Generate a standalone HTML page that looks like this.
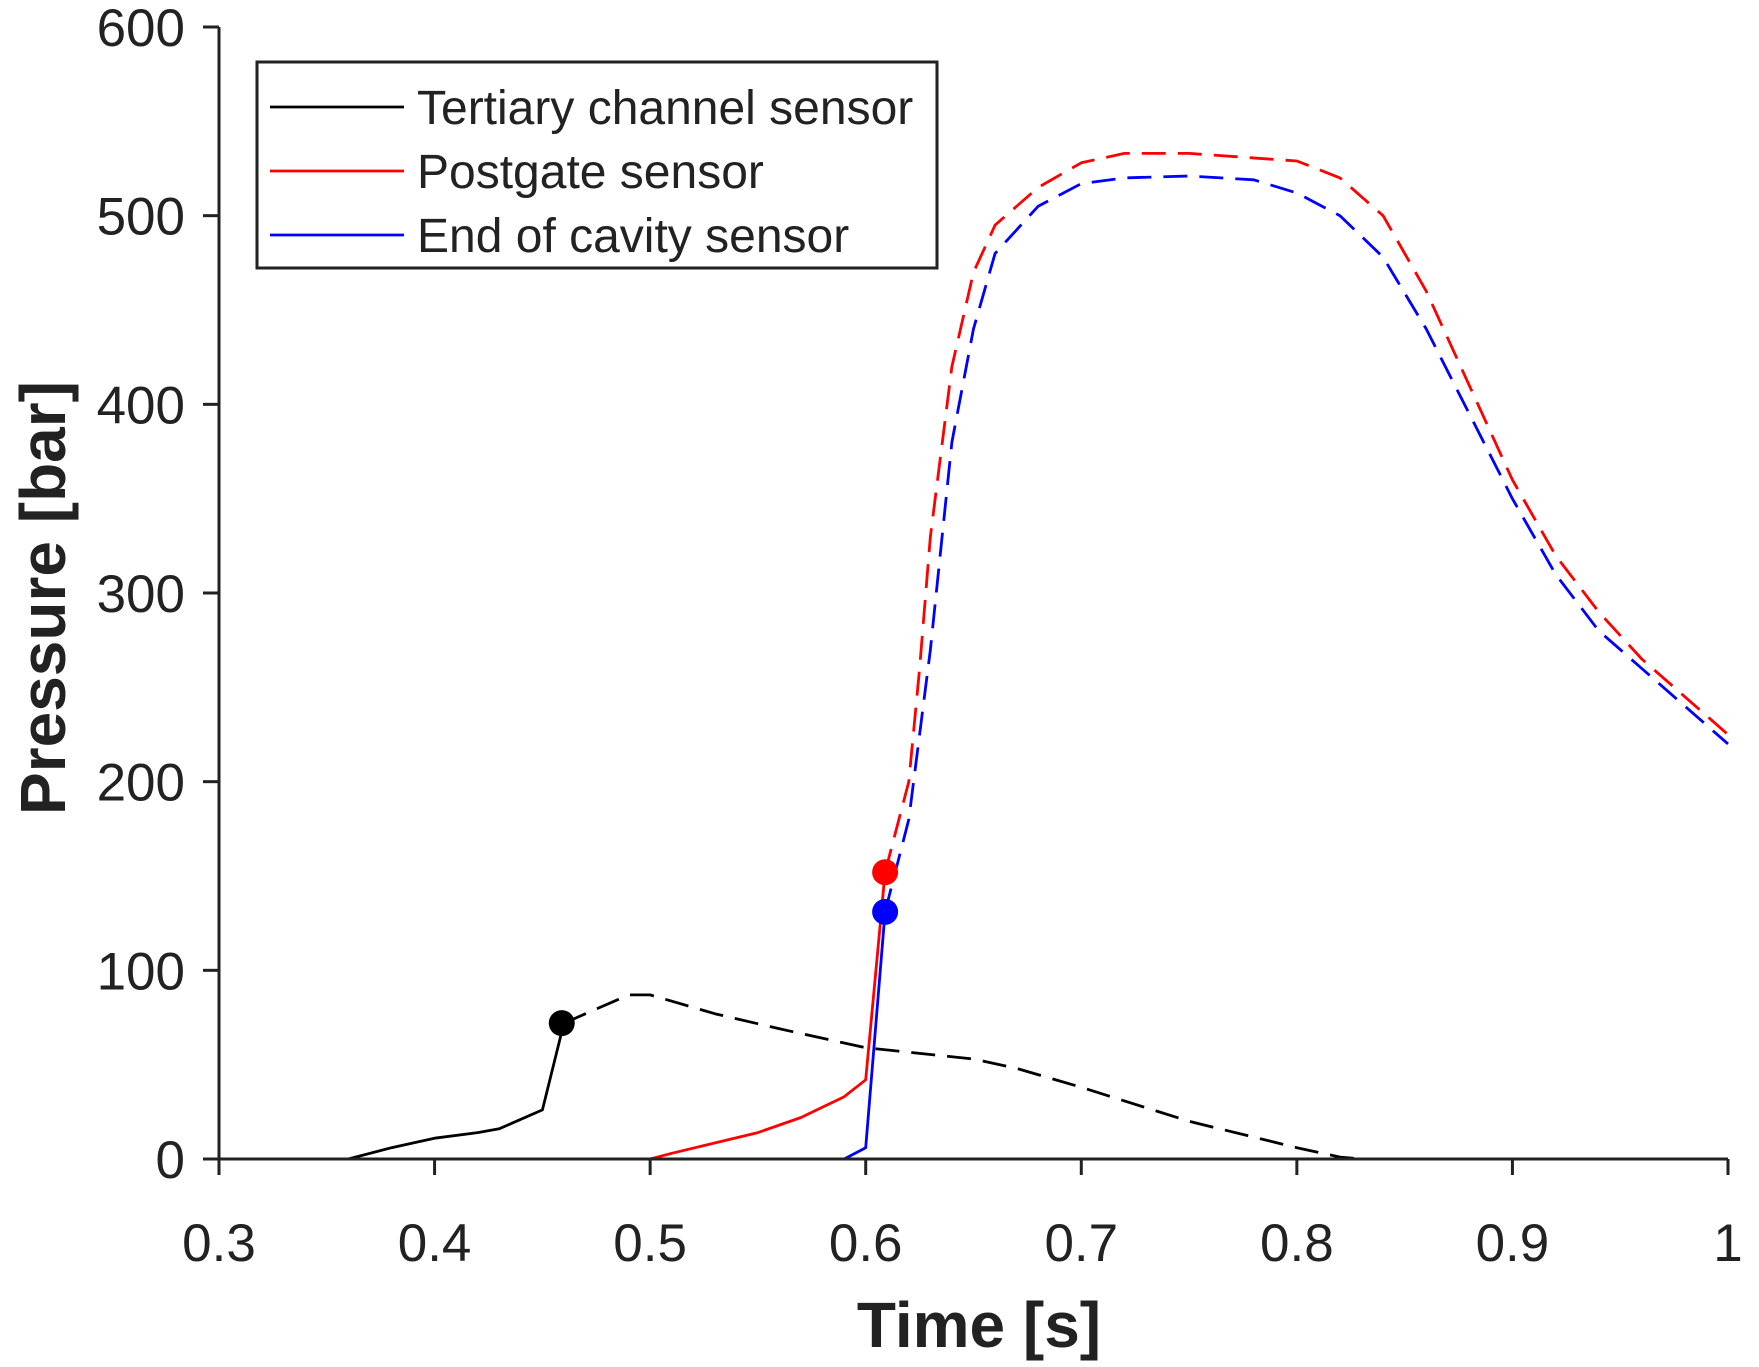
<!DOCTYPE html>
<html><head><meta charset="utf-8"><style>
html,body{margin:0;padding:0;background:#fff}
svg{display:block;font-family:"Liberation Sans",sans-serif}
</style></head><body>
<svg id="chart" width="1759" height="1367" viewBox="0 0 1759 1367">
<g id="plot"></g>
</svg>
<script>
const xTicks=[0.3,0.4,0.5,0.6,0.7,0.8,0.9,1];
const xTickLabels=["0.3","0.4","0.5","0.6","0.7","0.8","0.9","1"];
const yTicks=[0,100,200,300,400,500,600];
const yTickLabels=["0","100","200","300","400","500","600"];
const blackSolidX=[0.3,0.36,0.38,0.40,0.42,0.43,0.45,0.46];
const blackSolidY=[0,0,6,11,14,16,26,72];
const blackDashX=[0.46,0.49,0.50,0.53,0.56,0.60,0.65,0.67,0.70,0.75,0.80,0.82,0.83,1.0];
const blackDashY=[72,87,87,77,69,59,53,48,38,20,6,1,0,0];
const redSolidX=[0.3,0.5,0.51,0.55,0.57,0.59,0.60,0.609];
const redSolidY=[0,0,3,14,22,33,42,152];
const redDashX=[0.609,0.62,0.625,0.63,0.64,0.65,0.66,0.68,0.70,0.72,0.75,0.80,0.82,0.84,0.86,0.88,0.90,0.92,0.94,0.96,0.98,1.0];
const redDashY=[152,200,260,330,420,470,495,515,528,533,533,529,520,500,460,410,360,320,290,265,245,225];
const blueSolidX=[0.3,0.59,0.60,0.609];
const blueSolidY=[0,0,6,131];
const blueDashX=[0.609,0.62,0.63,0.64,0.65,0.66,0.68,0.70,0.72,0.75,0.78,0.80,0.82,0.84,0.86,0.88,0.90,0.92,0.94,0.96,0.98,1.0];
const blueDashY=[131,180,270,380,440,480,505,517,520,521,519,512,500,478,440,395,350,310,280,260,240,220];
const markerX=[0.459,0.609,0.609];
const markerY=[72,152,131];
const markerColors=["#000","#ff0000","#0000ff"];

const X0=219,X1=1728,Y0=1159,Y1=27;
const sx=v=>X0+(v-0.3)/0.7*(X1-X0);
const sy=v=>Y0-v/600*(Y0-Y1);
const NS="http://www.w3.org/2000/svg";
const g=document.getElementById('plot');
function mk(tag,attrs){const e=document.createElementNS(NS,tag);for(const k in attrs)e.setAttribute(k,attrs[k]);g.appendChild(e);return e;}
function line(xs,ys,color,dash,name){
  const d=xs.map((x,i)=>(i?'L':'M')+sx(x).toFixed(1)+','+sy(ys[i]).toFixed(1)).join('');
  const p=mk('path',{d:d,fill:'none',stroke:color,'stroke-width':2.8,'stroke-linejoin':'round','stroke-dasharray':dash?'24,12':'none'});
  
  
}
line(blackDashX,blackDashY,'#000',true,'tertiary-dashed-line');
line(redDashX,redDashY,'#ff0000',true,'postgate-dashed-line');
line(blueDashX,blueDashY,'#0000ff',true,'end-cavity-dashed-line');
line(blackSolidX,blackSolidY,'#000',false,'tertiary-solid-line');
line(redSolidX,redSolidY,'#ff0000',false,'postgate-solid-line');
line(blueSolidX,blueSolidY,'#0000ff',false,'end-cavity-solid-line');
markerX.forEach((x,i)=>{
  const c=mk('circle',{cx:sx(x),cy:sy(markerY[i]),r:13,fill:markerColors[i]});
  
  
});
const ax=mk('path',{d:`M${X0},${Y1}V${Y0}H${X1}`,fill:'none',stroke:'#222',"stroke-width":3});


xTicks.forEach((t,i)=>{
  const tk=mk('line',{x1:sx(t),x2:sx(t),y1:Y0,y2:Y0+16,stroke:'#222','stroke-width':3});
  
  
  const tx=mk('text',{x:sx(t),y:Y0+102,'font-size':53,'text-anchor':'middle',fill:'#222'});
  tx.textContent=xTickLabels[i];
  
  
});
yTicks.forEach((t,i)=>{
  const tk=mk('line',{x1:X0-16,x2:X0,y1:sy(t),y2:sy(t),stroke:'#222','stroke-width':3});
  
  
  const tx=mk('text',{x:X0-34,y:sy(t)+19,'font-size':53,'text-anchor':'end',fill:'#222'});
  tx.textContent=yTickLabels[i];
  
  
});
const xt=mk('text',{x:979,y:1347,'font-size':64,'font-weight':'bold','text-anchor':'middle',fill:'#222'});
xt.textContent='Time [s]';


const yt=mk('text',{x:0,y:0,'font-size':64,'font-weight':'bold','text-anchor':'middle',fill:'#222',transform:'translate(65,598) rotate(-90)'});
yt.textContent='Pressure [bar]';


const lb=mk('rect',{x:257,y:62,width:680,height:206,fill:'#fff',stroke:'#222','stroke-width':3});


const legNames=["Tertiary channel sensor","Postgate sensor","End of cavity sensor"];
const legColors=["#000","#ff0000","#0000ff"];
legNames.forEach((n,i)=>{
  const y=107+i*64;
  const l=mk('line',{x1:270,x2:404,y1:y,y2:y,stroke:legColors[i],'stroke-width':2.8});
  
  
  const t=mk('text',{x:417,y:y+17,'font-size':48,fill:'#222'});
  t.textContent=n;
  
  
});
</script>
</body></html>
